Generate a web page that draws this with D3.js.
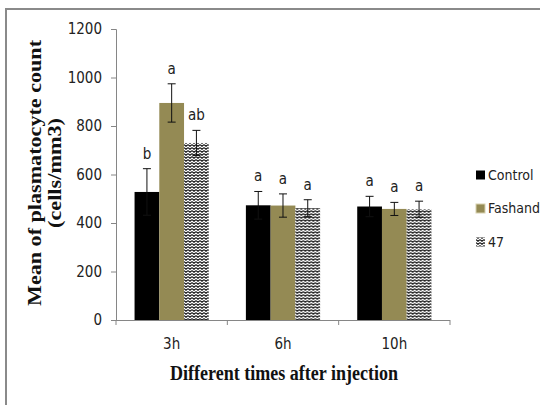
<!DOCTYPE html>
<html>
<head>
<meta charset="utf-8">
<script src="https://cdn.jsdelivr.net/npm/d3@7"></script>
<style>
  body { margin: 0; background: #fff; }
  svg { display: block; }
</style>
</head>
<body>
<div id="app"></div>
<script>
const categories = ['3h', '6h', '10h'];
const seriesNames = ['Control', 'Fashand', '47'];
const control = [528, 473, 468];
const fashand = [895, 472, 458];
const strain47 = [730, 461, 457];
const controlErr = [96, 57, 42];
const fashandErr = [79, 48, 27];
const strain47Err = [52, 35, 33];
const controlLetters = ['b', 'a', 'a'];
const fashandLetters = ['a', 'a', 'a'];
const strain47Letters = ['ab', 'a', 'a'];
const yTicks = [0, 200, 400, 600, 800, 1000, 1200];

const values = [control, fashand, strain47];
const errors = [controlErr, fashandErr, strain47Err];
const letters = [controlLetters, fashandLetters, strain47Letters];

const tickFont = '"DejaVu Sans Condensed", "Liberation Sans Narrow", "Roboto", sans-serif';
const titleFont = '"Liberation Serif", "Times New Roman", serif';
const axisColor = '#868686';

const svg = d3.select('#app')
  .append('svg')
  .attr('width', 540)
  .attr('height', 405);

// pattern for the "47" bars
const defs = svg.append('defs');
const pat = defs.append('pattern')
  .attr('id', 'zigzag')
  .attr('patternUnits', 'userSpaceOnUse')
  .attr('width', 4)
  .attr('height', 3);
pat.append('rect')
  .attr('width', 4)
  .attr('height', 3)
  .attr('fill', '#fff');
pat.append('path')
  .attr('d', 'M0,0.6 L2,2.2 L4,0.6')
  .attr('fill', 'none')
  .attr('stroke', '#000')
  .attr('stroke-width', 1.2);

const fills = ['#000', '#948a54', 'url(#zigzag)'];

// frame
svg.append('path')
  .attr('d', 'M6,405 V9 H540')
  .attr('fill', 'none')
  .attr('stroke', '#8a8a8a')
  .attr('stroke-width', 2);

const x = d3.scaleBand()
  .domain(categories)
  .range([116, 450])
  .padding(0);

const inner = d3.scaleBand()
  .domain(seriesNames)
  .range([x.bandwidth() / 6, x.bandwidth() * 5 / 6])
  .padding(0);

const y = d3.scaleLinear()
  .domain([0, 1200])
  .range([320, 29]);

function styleTicks(sel, size = 15) {
  sel.attr('font-family', tickFont)
    .attr('font-stretch', 'condensed')
    .attr('font-size', size)
    .attr('fill', '#222');
}

// y axis
const yAxis = svg.append('g')
  .attr('transform', 'translate(116,0)')
  .call(d3.axisLeft(y).tickValues(yTicks).tickSize(5).tickPadding(9).tickFormat(d3.format('d')));
yAxis.selectAll('path, line').attr('stroke', axisColor);
styleTicks(yAxis.selectAll('text'));

// x axis
const xAxis = svg.append('g')
  .attr('transform', 'translate(0,320)')
  .call(d3.axisBottom(x).tickSize(0).tickPadding(18));
xAxis.select('.domain').attr('stroke', axisColor).attr('d', 'M116,0.5H450');
styleTicks(xAxis.selectAll('text'));

// category separator ticks
const bounds = categories.map(c => x(c)).concat([x(categories[categories.length - 1]) + x.bandwidth()]);
svg.append('g')
  .selectAll('line')
  .data(bounds)
  .join('line')
  .attr('x1', d => d)
  .attr('x2', d => d)
  .attr('y1', 320)
  .attr('y2', 325)
  .attr('stroke', axisColor);

// bars
const groups = svg.append('g')
  .selectAll('g')
  .data(categories)
  .join('g')
  .attr('transform', d => `translate(${x(d)},0)`);

const cells = groups.selectAll('g')
  .data((c, ci) => seriesNames.map((s, si) => ({
    s, si,
    v: values[si][ci],
    e: errors[si][ci],
    l: letters[si][ci]
  })))
  .join('g');

cells.append('rect')
  .attr('x', d => inner(d.s))
  .attr('width', inner.bandwidth())
  .attr('y', d => y(d.v))
  .attr('height', d => y(0) - y(d.v))
  .attr('fill', d => fills[d.si]);

// error bars
const eb = cells.append('g')
  .attr('stroke', '#111')
  .attr('stroke-width', 1);
eb.append('line')
  .attr('x1', d => inner(d.s) + inner.bandwidth() / 2)
  .attr('x2', d => inner(d.s) + inner.bandwidth() / 2)
  .attr('y1', d => y(d.v + d.e))
  .attr('y2', d => y(d.v - d.e));
eb.append('line')
  .attr('x1', d => inner(d.s) + inner.bandwidth() / 2 - 4)
  .attr('x2', d => inner(d.s) + inner.bandwidth() / 2 + 4)
  .attr('y1', d => y(d.v + d.e))
  .attr('y2', d => y(d.v + d.e));
eb.append('line')
  .attr('x1', d => inner(d.s) + inner.bandwidth() / 2 - 4)
  .attr('x2', d => inner(d.s) + inner.bandwidth() / 2 + 4)
  .attr('y1', d => y(d.v - d.e))
  .attr('y2', d => y(d.v - d.e));

// significance letters
styleTicks(cells.append('text')
  .attr('x', d => inner(d.s) + inner.bandwidth() / 2)
  .attr('y', d => y(d.v + d.e) - 10)
  .attr('text-anchor', 'middle')
  .text(d => d.l));

// axis titles
const yTitle = svg.append('text')
  .attr('transform', 'translate(41,173) rotate(-90)')
  .attr('text-anchor', 'middle')
  .attr('font-family', titleFont)
  .attr('font-weight', 'bold')
  .attr('font-size', 18)
  .attr('fill', '#111');
yTitle.append('tspan').attr('x', 0).attr('y', 0)
  .attr('textLength', 266).attr('lengthAdjust', 'spacingAndGlyphs')
  .text('Mean of plasmatocyte count');
yTitle.append('tspan').attr('x', 0).attr('y', 20)
  .attr('textLength', 110).attr('lengthAdjust', 'spacingAndGlyphs')
  .text('(cells/mm3)');

svg.append('text')
  .attr('x', 284)
  .attr('y', 380)
  .attr('text-anchor', 'middle')
  .attr('font-family', titleFont)
  .attr('font-weight', 'bold')
  .attr('font-size', 20)
  .attr('fill', '#111')
  .attr('textLength', 228)
  .attr('lengthAdjust', 'spacingAndGlyphs')
  .text('Different times after injection');

// legend
const legend = svg.append('g')
  .selectAll('g')
  .data(seriesNames)
  .join('g')
  .attr('transform', (d, i) => `translate(476,${175 + i * 33.5})`);
legend.append('rect')
  .attr('x', 0)
  .attr('y', -4.5)
  .attr('width', 9)
  .attr('height', 9)
  .attr('fill', (d, i) => fills[i])
  .attr('stroke', (d, i) => i === 1 ? '#d8d2b0' : 'none')
  .attr('stroke-width', 1);
styleTicks(legend.append('text')
  .attr('x', 12)
  .attr('y', 0)
  .attr('dy', '0.35em')
  .text(d => d), 14);
</script>
</body>
</html>
